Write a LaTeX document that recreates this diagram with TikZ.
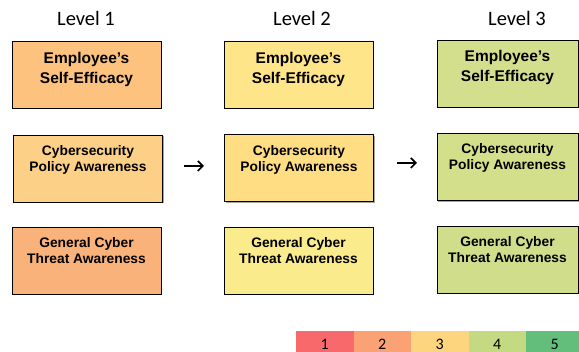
\documentclass[tikz,border=0pt]{standalone}
\usepackage{fontspec}
\setmainfont{Liberation Sans}
\newfontfamily\calibri{Carlito}
\usetikzlibrary{positioning,arrows.meta,shadows}

\definecolor{lvlAa}{HTML}{FCC27E}
\definecolor{lvlAb}{HTML}{FDD087}
\definecolor{lvlAc}{HTML}{F9B27A}
\definecolor{lvlBa}{HTML}{FFE58A}
\definecolor{lvlBb}{HTML}{FEDD83}
\definecolor{lvlBc}{HTML}{FAEB8C}
\definecolor{lvlCa}{HTML}{D4DF8E}
\definecolor{lvlCb}{HTML}{D4DF8C}
\definecolor{lvlCc}{HTML}{D0DD8A}
\definecolor{scaleA}{HTML}{F8696B}
\definecolor{scaleB}{HTML}{FBA275}
\definecolor{scaleC}{HTML}{FDD57F}
\definecolor{scaleD}{HTML}{C3DA82}
\definecolor{scaleE}{HTML}{63BE7B}

\begin{document}
\begin{tikzpicture}[x=1pt, y=-1pt,
      box/.style = {draw, line width=0.8pt, minimum width=149pt, minimum height=67pt,
                    inner sep=0pt, drop shadow={shadow xshift=1.3pt, shadow yshift=-1.3pt,
                    fill=black, opacity=0.35}},
      boxC/.style = {box, minimum width=141pt},
      big/.style = {inner sep=0pt, align=center,
                    font=\fontsize{15.5}{20}\selectfont\bfseries},
      small/.style = {inner sep=0pt, align=center,
                    font=\fontsize{13.8}{16}\selectfont\bfseries},
      level/.style = {font=\calibri\fontsize{20.5}{24}\selectfont},
      cell/.style = {minimum width=57.5pt, minimum height=26pt, inner sep=0pt,
                    font=\calibri\fontsize{16}{18}\selectfont},
      nextarrow/.style = {line width=1.7pt, -{Straight Barb[length=5pt, width=10pt]}}]
    \useasboundingbox (0,0) rectangle (579,352);

    % headers
    \node[level] (h1) at (86,18) {Level 1};
    \node[level] (h2) at (302,18) {Level 2};
    \node[level] (h3) at (517,18) {Level 3};

    % level 1
    \node[box, fill=lvlAa] (a1) at (86.5,74.5) {};
    \node[box, fill=lvlAb] (a2) at (88,168.5) {};
    \node[box, fill=lvlAc] (a3) at (86.5,260.5) {};
    \node[big, below=11pt of a1.north] (a1t) {Employee’s\\Self-Efficacy};
    \node[small, below=11pt of a2.north] (a2t) {Cybersecurity\\Policy Awareness};
    \node[small, below=11pt of a3.north] (a3t) {General Cyber\\Threat Awareness};

    % level 2
    \node[box, fill=lvlBa] (b1) at (298.5,74.5) {};
    \node[box, fill=lvlBb] (b2) at (299,168) {};
    \node[box, fill=lvlBc] (b3) at (298.5,260.5) {};
    \node[big, below=11pt of b1.north] (b1t) {Employee’s\\Self-Efficacy};
    \node[small, below=11pt of b2.north] (b2t) {Cybersecurity\\Policy Awareness};
    \node[small, below=11pt of b3.north] (b3t) {General Cyber\\Threat Awareness};

    % level 3
    \node[boxC, fill=lvlCa] (c1) at (507.5,73.5) {};
    \node[boxC, fill=lvlCb] (c2) at (507.5,167) {};
    \node[boxC, fill=lvlCc] (c3) at (507.5,259.5) {};
    \node[big, below=10.5pt of c1.north] (c1t) {Employee’s\\Self-Efficacy};
    \node[small, below=10.5pt of c2.north] (c2t) {Cybersecurity\\Policy Awareness};
    \node[small, below=10.5pt of c3.north] (c3t) {General Cyber\\Threat Awareness};

    % arrows
    \coordinate (p1) at (184,166);
    \coordinate (q1) at (204,166);
    \coordinate (p2) at (397,163);
    \coordinate (q2) at (417,163);
    \draw[nextarrow] (p1) -- (q1);
    \draw[nextarrow] (p2) -- (q2);

    % scale
    \node[cell, fill=scaleA] (s1) at (324.75,344) {1};
    \node[cell, fill=scaleB] (s2) at (382.25,344) {2};
    \node[cell, fill=scaleC] (s3) at (439.75,344) {3};
    \node[cell, fill=scaleD] (s4) at (497.25,344) {4};
    \node[cell, fill=scaleE] (s5) at (554.75,344) {5};

  \end{tikzpicture}
\end{document}
